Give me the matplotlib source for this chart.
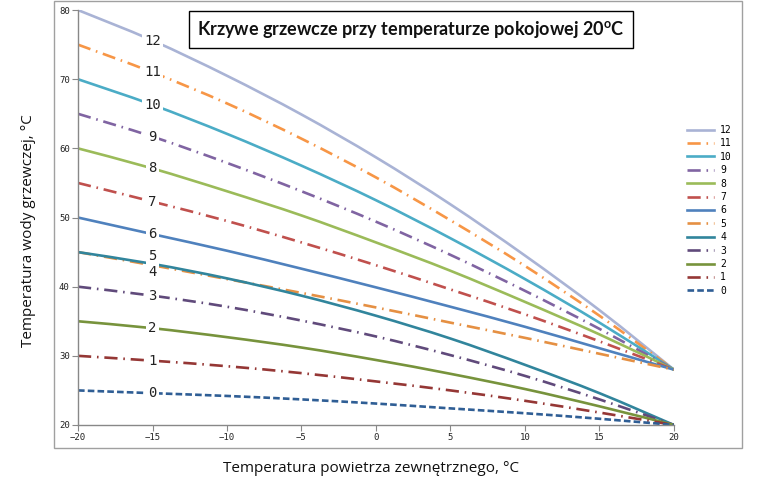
import numpy as np
import matplotlib.pyplot as plt
from matplotlib.patches import Rectangle, PathPatch
from matplotlib.path import Path
from matplotlib.lines import Line2D

# outdoor temperature (x) and supply temperature per heating curve
t_out = [-20, -15, -10, -5, 0, 5, 10, 15, 20]
curve_0 = [25, 24.6, 24.2, 23.7, 23.1, 22.4, 21.7, 20.9, 20]
curve_1 = [30, 29.3, 28.5, 27.5, 26.3, 25.0, 23.5, 21.8, 20]
curve_2 = [35, 34.0, 32.7, 31.2, 29.4, 27.4, 25.2, 22.7, 20]
curve_3 = [40, 38.7, 37.1, 35.1, 32.8, 30.1, 27.1, 23.7, 20]
curve_4 = [45, 43.3, 41.2, 38.7, 35.8, 32.5, 28.7, 24.6, 20]
curve_5 = [45, 43.1, 41.1, 39.1, 37.0, 34.8, 32.6, 30.3, 28]
curve_6 = [50, 47.6, 45.2, 42.6, 39.9, 37.1, 34.2, 31.1, 28]
curve_7 = [55, 52.3, 49.5, 46.4, 43.1, 39.6, 36.0, 32.1, 28]
curve_8 = [60, 57.1, 53.8, 50.3, 46.4, 42.3, 37.8, 33.1, 28]
curve_9 = [65, 61.7, 57.9, 53.8, 49.4, 44.6, 39.4, 33.9, 28]
curve_10 = [70, 66.3, 62.1, 57.5, 52.5, 47.0, 41.1, 34.8, 28]
curve_11 = [75, 71.0, 66.5, 61.4, 55.8, 49.6, 43.0, 35.8, 28]
curve_12 = [80, 75.6, 70.5, 64.9, 58.7, 51.9, 44.5, 36.6, 28]

curves = [curve_12, curve_11, curve_10, curve_9, curve_8, curve_7, curve_6,
          curve_5, curve_4, curve_3, curve_2, curve_1, curve_0]
names = ['12', '11', '10', '9', '8', '7', '6', '5', '4', '3', '2', '1', '0']

colors = ['#A9B3D5', '#F79646', '#4BACC6', '#8064A2', '#9BBB59', '#C0504D',
          '#4F81BD', '#E59043', '#31859C', '#604A7B', '#77933C', '#953735',
          '#2F5E95']
dashdot = (0, (5, 2.2, 0.6, 2.2))
styles = ['-', dashdot, '-', dashdot, '-', dashdot, '-', dashdot, '-',
          dashdot, '-', dashdot, (0, (2.5, 1.2))]
# label offsets (points) for the curve labels placed at -15
label_dy = [0, 0, 0, 0, 0, 0, 0, 7, -6, 0, 0, 0, 0]

mono = 'DejaVu Sans Mono'


def smooth_path(x, y):
    # Excel-like smoothed line: Catmull-Rom segments as cubic Beziers
    x = np.asarray(x, float)
    y = np.asarray(y, float)
    verts = [(x[0], y[0])]
    codes = [Path.MOVETO]
    n = len(x)
    for i in range(n - 1):
        i0, i3 = max(i - 1, 0), min(i + 2, n - 1)
        c1 = (x[i] + (x[i + 1] - x[i0]) / 6, y[i] + (y[i + 1] - y[i0]) / 6)
        c2 = (x[i + 1] - (x[i3] - x[i]) / 6, y[i + 1] - (y[i3] - y[i]) / 6)
        verts += [c1, c2, (x[i + 1], y[i + 1])]
        codes += [Path.CURVE4] * 3
    return Path(verts, codes)


fig = plt.figure(figsize=(7.77, 4.8), dpi=100)
ax = fig.add_axes([0.1004, 0.1146, 0.7670, 0.8644])

handles = []
for vals, name, c, ls, dy in zip(curves, names, colors, styles, label_dy):
    ax.add_patch(PathPatch(smooth_path(t_out, vals), fill=False, ec=c,
                           ls=ls, lw=1.9, capstyle='butt'))
    handles.append(Line2D([], [], color=c, ls=ls, lw=1.9, label=name))
    ax.annotate(name, (t_out[1], vals[1]), xytext=(0, dy),
                textcoords='offset points', ha='center', va='center',
                fontsize=10, family=mono, color='#222222',
                bbox=dict(boxstyle='square,pad=0.15', fc='white', ec='none'))

ax.set_xlim(-20, 20)
ax.set_ylim(20, 80)
ax.set_xticks(np.arange(-20, 21, 5))
ax.set_yticks(np.arange(20, 81, 10))
for lab in ax.get_xticklabels() + ax.get_yticklabels():
    lab.set_family(mono)
    lab.set_fontsize(6.5)
ax.tick_params(direction='out', length=4, width=0.8, color='#888888',
               labelcolor='#222222', pad=2)
ax.spines['top'].set_visible(False)
ax.spines['right'].set_visible(False)
for s in ['left', 'bottom']:
    ax.spines[s].set_color('#888888')
    ax.spines[s].set_linewidth(1.0)

fig.legend(handles=handles, loc='upper left', bbox_to_anchor=(0.873, 0.758),
           frameon=False, prop={'family': mono, 'size': 7},
           handlelength=2.8, handletextpad=0.6, labelspacing=0.35)

# chart area frame
fig.patches.append(Rectangle((0.0695, 0.0667), 0.8855, 0.931,
                             transform=fig.transFigure, fill=False,
                             ec='#A0A0A0', lw=1.0))

# title box
fig.text(0.529, 0.938, 'Krzywe grzewcze przy temperaturze pokojowej 20$^\\mathregular{o}$C',
         ha='center', va='center', fontsize=13, fontweight='bold',
         family='Lato', color='#111111',
         bbox=dict(boxstyle='square,pad=0.45', fc='white', ec='black', lw=1.0))

fig.text(0.478, 0.008, 'Temperatura powietrza zewnętrznego, °C', ha='center',
         va='bottom', fontsize=11, family='Open Sans', color='#111111')
fig.text(0.037, 0.52, 'Temperatura wody grzewczej, °C', ha='center',
         va='center', rotation=90, fontsize=11, family='Open Sans',
         color='#111111')

fig.savefig('out.png', dpi=100)
